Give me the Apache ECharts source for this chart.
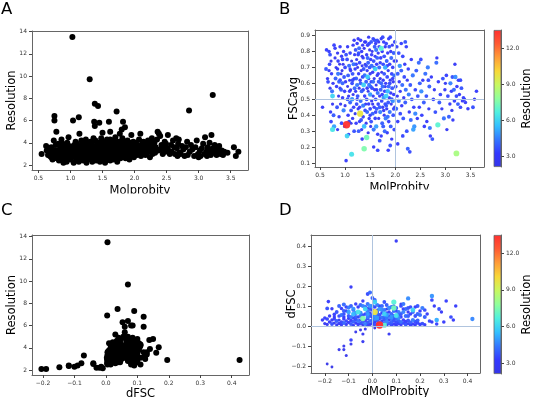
<!DOCTYPE html>
<html><head><meta charset="utf-8">
<script src="https://cdn.jsdelivr.net/npm/echarts@6/dist/echarts.min.js"></script>
<style>html,body{margin:0;padding:0;background:#fff}#c{width:534px;height:401px}</style>
</head><body><div id="c"></div>
<script>
// ---- data: [MolProbity, FSCavg, Resolution] (panels A and B) ----
const molFscRes = [
[0.55,0.45,3.0],[0.62,0.69,3.7],[0.63,0.81,3.3],[0.65,0.63,2.9],[0.66,0.61,3.5],[0.68,0.80,3.2],[0.68,0.68,2.8],[0.69,0.72,3.4],[0.70,0.78,3.6],[0.70,0.57,2.7],[0.71,0.42,3.1],[0.72,0.74,2.5],[0.72,0.36,3.4],[0.73,0.66,3.0],[0.74,0.55,4.2],[0.75,0.31,6.4],[0.75,0.52,6.0],[0.75,0.47,2.6],[0.76,0.60,2.9],[0.77,0.40,3.8],[0.78,0.33,5.0],[0.78,0.84,3.3],
[0.80,0.82,3.2],[0.80,0.76,2.6],[0.81,0.63,3.9],[0.82,0.70,2.4],[0.83,0.58,3.1],[0.84,0.45,3.6],[0.85,0.79,2.8],[0.86,0.74,3.3],[0.86,0.66,4.3],[0.87,0.52,2.5],[0.88,0.39,3.0],[0.89,0.72,2.2],[0.90,0.62,3.5],[0.90,0.83,3.1],[0.91,0.47,2.7],[0.92,0.56,3.8],[0.93,0.77,2.9],[0.93,0.35,3.4],[0.94,0.68,2.3],[0.95,0.51,3.2],[0.95,0.60,4.0],[0.96,0.72,2.6],[0.97,0.43,4.5],[0.97,0.80,3.0],[0.98,0.64,3.7],[0.99,0.33,2.8],[0.99,0.55,3.3],[0.85,0.31,2.6],[0.88,0.61,3.9],[0.92,0.66,2.4],[0.95,0.75,3.5],[0.90,0.57,2.8],[0.85,0.69,3.1],
[1.00,0.70,3.4],[1.00,0.46,2.5],[1.01,0.61,3.0],[1.02,0.115,3.1],[1.03,0.34,13.5],[1.04,0.27,6.0],[1.04,0.75,3.5],[1.05,0.58,2.2],[1.05,0.83,2.9],[1.06,0.65,3.8],[1.06,0.40,3.2],[1.07,0.52,2.7],[1.08,0.71,4.1],[1.08,0.36,3.4],[1.09,0.62,2.4],[1.10,0.79,3.3],[1.10,0.48,3.9],[1.11,0.56,2.6],[1.11,0.68,3.1],[1.12,0.43,3.6],[1.13,0.155,6.3],[1.13,0.74,2.3],[1.14,0.60,3.5],[1.14,0.50,4.8],[1.15,0.38,2.9],[1.15,0.66,3.7],[1.16,0.84,3.0],[1.16,0.53,2.5],[1.17,0.72,4.2],[1.17,0.45,3.3],[1.18,0.63,2.8],[1.18,0.30,3.6],[1.19,0.57,4.0],[1.19,0.78,2.6],[1.12,0.35,2.4],[1.07,0.28,2.9],[1.02,0.78,3.6],[1.09,0.55,3.2],[1.18,0.87,3.1],[1.15,0.62,3.4],[1.10,0.69,2.9],[1.05,0.50,3.7],
[1.20,0.69,3.1],[1.20,0.41,2.4],[1.21,0.81,3.6],[1.21,0.55,2.8],[1.22,0.63,3.9],[1.22,0.35,3.2],[1.23,0.75,2.5],[1.23,0.47,3.5],[1.24,0.59,4.3],[1.24,0.85,3.0],[1.25,0.70,2.2],[1.25,0.52,3.7],[1.26,0.78,3.3],[1.26,0.44,2.7],[1.27,0.66,3.0],[1.27,0.30,3.8],[1.28,0.82,4.0],[1.28,0.57,2.6],[1.29,0.73,3.4],[1.30,0.41,9.7],[1.30,0.62,2.9],[1.31,0.87,3.2],[1.31,0.49,4.1],[1.32,0.68,2.5],[1.32,0.37,3.6],[1.33,0.80,3.1],[1.33,0.55,3.9],[1.34,0.71,2.3],[1.34,0.25,3.3],[1.35,0.64,3.5],[1.35,0.84,2.8],[1.36,0.46,4.4],[1.36,0.76,3.0],[1.37,0.59,5.9],[1.37,0.69,3.7],[1.38,0.19,7.5],[1.38,0.33,5.5],[1.38,0.82,2.6],[1.39,0.52,3.2],[1.39,0.65,4.2],[1.40,0.72,2.4],[1.40,0.43,3.4],[1.26,0.88,2.9],[1.29,0.36,3.1],[1.33,0.31,2.7],[1.36,0.39,3.3],
[1.22,0.72,3.3],[1.24,0.50,2.9],[1.27,0.79,3.6],[1.29,0.45,3.0],[1.31,0.60,3.8],[1.34,0.77,2.7],[1.36,0.56,3.4],[1.39,0.86,3.1],
[1.41,0.86,3.1],[1.42,0.61,3.8],[1.42,0.35,2.5],[1.43,0.26,7.3],[1.43,0.78,3.0],[1.43,0.50,3.5],[1.44,0.68,2.7],[1.44,0.42,4.0],[1.45,0.64,5.8],[1.45,0.84,3.3],[1.46,0.55,2.3],[1.46,0.73,3.9],[1.47,0.47,3.2],[1.47,0.89,2.8],[1.48,0.59,4.4],[1.48,0.38,3.0],[1.49,0.70,3.6],[1.49,0.81,2.6],[1.50,0.53,4.9],[1.50,0.44,3.4],[1.50,0.66,2.9],[1.51,0.75,3.2],[1.51,0.33,2.4],[1.52,0.86,3.7],[1.52,0.61,3.1],[1.53,0.49,2.7],[1.53,0.71,4.1],[1.54,0.57,3.5],[1.54,0.80,2.2],[1.55,0.41,3.9],[1.55,0.67,3.0],[1.56,0.88,3.4],[1.56,0.52,2.8],[1.57,0.74,3.6],[1.57,0.31,4.3],[1.58,0.63,2.5],[1.58,0.45,3.2],[1.59,0.83,3.8],[1.59,0.56,3.0],[1.60,0.69,5.9],[1.60,0.38,3.3],[1.60,0.77,2.7],[1.46,0.29,2.6],[1.52,0.36,3.6],[1.57,0.20,3.1],
[1.41,0.47,2.8],[1.42,0.71,3.6],[1.44,0.57,3.2],[1.45,0.76,4.0],[1.47,0.63,2.9],[1.48,0.85,3.5],[1.50,0.40,3.1],[1.51,0.58,3.7],[1.53,0.78,3.3],[1.55,0.47,2.6],[1.56,0.61,4.1],[1.58,0.70,3.0],[1.59,0.87,3.6],
[1.61,0.50,3.6],[1.61,0.85,3.0],[1.62,0.59,2.4],[1.62,0.33,5.0],[1.63,0.72,3.2],[1.63,0.44,3.8],[1.64,0.65,2.7],[1.64,0.87,3.5],[1.65,0.54,4.2],[1.65,0.28,3.1],[1.66,0.79,2.9],[1.66,0.47,3.4],[1.67,0.61,3.7],[1.67,0.38,2.5],[1.68,0.83,3.3],[1.68,0.70,4.0],[1.69,0.52,3.0],[1.69,0.24,3.6],[1.70,0.63,2.6],[1.70,0.42,4.5],[1.72,0.82,6.8],[1.71,0.76,3.2],[1.71,0.56,3.8],[1.72,0.88,2.8],[1.73,0.49,3.4],[1.73,0.67,2.3],[1.74,0.35,3.9],[1.74,0.80,3.1],[1.75,0.58,4.1],[1.75,0.45,2.7],[1.76,0.72,3.5],[1.76,0.62,3.0],[1.77,0.51,4.8],[1.77,0.86,3.3],[1.78,0.40,2.6],[1.78,0.66,3.7],[1.79,0.55,3.2],[1.79,0.30,4.0],[1.80,0.70,5.2],[1.80,0.47,3.5],[1.80,0.83,2.9],[1.65,0.18,3.4],[1.72,0.27,3.0],[1.76,0.33,3.8],[1.62,0.81,4.3],
[1.61,0.42,3.4],[1.63,0.56,2.9],[1.64,0.76,3.9],[1.66,0.66,3.2],[1.67,0.86,2.7],[1.69,0.45,3.8],[1.70,0.73,3.1],[1.72,0.60,4.0],[1.74,0.53,3.3],[1.75,0.89,3.5],[1.77,0.43,3.0],[1.78,0.77,3.6],[1.80,0.58,2.8],
[1.81,0.60,3.0],[1.81,0.38,4.4],[1.82,0.52,5.9],[1.82,0.85,3.4],[1.83,0.74,3.8],[1.83,0.44,2.8],[1.84,0.64,3.5],[1.84,0.29,3.1],[1.85,0.55,5.4],[1.85,0.79,3.0],[1.86,0.48,3.7],[1.86,0.68,2.6],[1.87,0.58,4.0],[1.87,0.36,3.3],[1.88,0.83,3.6],[1.88,0.51,2.9],[1.89,0.72,3.2],[1.89,0.42,4.2],[1.90,0.62,2.7],[1.90,0.89,3.5],[1.91,0.54,3.1],[1.91,0.33,3.8],[1.92,0.76,4.0],[1.92,0.47,2.5],[1.93,0.66,3.4],[1.93,0.25,3.0],[1.94,0.57,3.7],[1.94,0.84,2.8],[1.95,0.49,4.7],[1.95,0.70,3.3],[1.96,0.40,3.6],[1.96,0.61,2.9],[1.97,0.79,3.9],[1.97,0.53,3.2],[1.98,0.65,4.1],[1.98,0.31,3.5],[1.99,0.45,2.7],[1.99,0.86,3.4],[1.86,0.18,3.2],[1.90,0.21,3.6],
[1.82,0.46,3.7],[1.84,0.71,3.2],[1.85,0.39,4.1],[1.87,0.88,3.0],[1.89,0.60,3.5],[1.91,0.80,2.9],[1.93,0.50,3.8],[1.95,0.63,3.1],[1.97,0.44,3.4],[1.98,0.74,3.0],
[2.01,0.58,3.6],[2.02,0.74,3.1],[2.02,0.44,4.0],[2.03,0.83,3.4],[2.04,0.52,2.9],[2.05,0.66,3.8],[2.05,0.36,3.2],[2.07,0.79,3.6],[2.07,0.49,4.3],[2.08,0.61,3.0],[2.09,0.71,4.8],[2.10,0.41,3.5],[2.10,0.55,2.8],[2.12,0.85,3.3],[2.12,0.68,3.9],[2.13,0.46,3.1],[2.14,0.59,4.1],[2.15,0.77,3.4],[2.16,0.38,3.7],[2.17,0.51,2.9],[2.18,0.64,3.5],[2.19,0.72,3.0],[2.20,0.48,3.8],[2.21,0.56,4.2],[2.22,0.83,3.3],[2.23,0.30,3.6],[2.24,0.62,2.7],[2.25,0.19,3.9],[2.26,0.69,3.2],[2.27,0.53,4.4],[2.28,0.42,3.0],[2.29,0.17,3.5],[2.30,0.59,3.7],[2.31,0.37,4.0],[2.32,0.75,3.1],[2.33,0.50,3.6],[2.35,0.65,4.3],[2.36,0.31,5.0],[2.37,0.45,3.3],[2.38,0.33,4.8],[2.40,0.41,4.6],[2.40,0.56,3.4],[2.42,0.68,3.8],[2.44,0.38,3.0],[2.45,0.52,3.6],[2.47,0.73,4.1],[2.48,0.45,3.2],[2.49,0.60,3.9],[2.15,0.27,3.4],[2.05,0.22,3.2],[2.20,0.86,3.7],
[2.51,0.75,3.5],[2.52,0.55,4.7],[2.53,0.40,3.3],[2.55,0.62,3.0],[2.57,0.48,3.8],[2.58,0.33,3.2],[2.60,0.66,4.2],[2.62,0.52,3.6],[2.63,0.36,3.0],[2.65,0.70,4.4],[2.66,0.62,3.5],[2.67,0.44,2.8],[2.68,0.58,3.9],[2.69,0.32,4.3],[2.70,0.27,3.1],[2.72,0.64,3.0],[2.74,0.25,3.7],[2.76,0.50,3.4],[2.78,0.56,2.8],[2.80,0.42,3.6],[2.82,0.73,4.1],[2.83,0.76,2.9],[2.85,0.34,6.9],[2.86,0.61,3.2],[2.88,0.48,3.8],[2.90,0.53,3.4],[2.93,0.44,2.8],[2.95,0.63,3.6],[2.97,0.38,4.2],[2.99,0.56,3.0],
[3.00,0.60,2.7],[3.02,0.65,3.3],[3.03,0.31,2.8],[3.05,0.52,3.5],[3.07,0.39,3.9],[3.09,0.47,3.0],[3.10,0.60,4.5],[3.12,0.55,3.2],[3.13,0.43,2.8],[3.14,0.64,3.6],[3.15,0.37,3.0],[3.17,0.56,4.0],[3.18,0.49,3.3],[3.19,0.72,2.9],[3.20,0.64,4.7],[3.22,0.16,8.3],[3.22,0.52,3.5],[3.23,0.58,3.1],[3.25,0.47,3.8],[3.26,0.62,3.2],[3.28,0.53,2.9],[3.30,0.45,3.4],[3.32,0.57,3.7],[3.34,0.49,3.0],[3.36,0.51,3.3],[3.38,0.50,2.9],[3.40,0.48,3.2],[3.45,0.44,3.1],[3.55,0.45,3.6],[3.58,0.50,2.8],[3.62,0.55,3.2],[3.30,0.62,3.5]
];

// ---- data: [dMolProbity, dFSC, Resolution] (panels C and D) ----
const dmolDfscRes = [
[-0.19,-0.19,2.1],[-0.17,-0.205,2.1],[-0.11,-0.148,2.25],[-0.14,-0.118,2.35],[-0.12,-0.118,2.4],[-0.12,-0.10,2.3],[-0.09,-0.09,2.4],[-0.09,-0.07,3.3],[-0.04,-0.078,2.6],[-0.04,-0.04,2.55],[0.07,-0.04,2.6],[-0.07,-0.03,2.2],[-0.05,-0.02,2.2],[-0.03,-0.015,2.3],[0.01,-0.01,2.15],
[-0.21,0.030,3.0],[-0.20,0.012,2.8],[-0.19,0.035,3.4],[-0.19,0.008,2.6],[-0.18,0.020,3.1],[-0.17,0.030,2.9],[-0.17,0.010,3.6],[-0.16,0.015,2.5],[-0.16,0.035,3.3],[-0.15,0.005,2.7],[-0.15,0.025,3.8],[-0.14,0.012,3.0],[-0.14,0.030,2.6],[-0.13,0.020,3.5],[-0.13,0.006,2.9],[-0.12,0.035,3.2],[-0.12,0.015,4.0],[-0.11,0.008,2.8],[-0.11,0.025,3.4],[-0.10,0.018,3.0],[-0.10,0.038,2.7],[-0.09,0.010,3.7],[-0.09,0.028,3.1],[-0.08,0.004,2.6],[-0.08,0.022,3.9],[-0.08,0.040,3.3],[-0.07,0.015,2.9],[-0.07,0.032,3.5],[-0.06,0.008,3.2],[-0.06,0.025,4.2],[-0.06,0.045,2.8],[-0.05,0.012,3.6],[-0.05,0.030,3.0],[-0.04,0.005,2.5],[-0.04,0.020,3.8],[-0.04,0.037,7.5],[-0.03,0.010,4.4],[-0.03,0.028,2.9],[-0.02,0.003,3.1],[-0.02,0.018,3.7],[-0.02,0.038,3.4],[-0.01,0.008,2.8],[-0.01,0.025,4.0],[0.00,0.012,3.3],[0.00,0.030,3.9],[0.00,0.045,2.7],[0.01,0.005,3.6],[0.01,0.020,3.0],[0.01,0.035,4.6],[0.02,0.010,3.2],[0.02,0.028,3.8],[0.02,0.045,3.4],[0.03,0.005,13.5],[0.03,0.018,4.2],[0.03,0.038,3.0],[0.04,0.008,3.5],[0.04,0.025,2.9],[0.04,0.042,4.1],[0.05,0.004,6.9],[0.05,0.015,3.3],[0.05,0.032,3.7],[0.06,0.005,3.0],[0.06,0.022,4.5],[0.06,0.040,3.2],[0.07,0.012,3.8],[0.07,0.030,2.8],[0.08,0.006,3.4],[0.08,0.020,3.9],[0.08,0.038,4.3],[0.09,0.010,3.1],[0.09,0.028,3.6],[0.10,0.004,2.9],[0.10,0.018,3.5],[0.10,0.035,4.0],[0.11,0.012,3.3],[0.11,0.025,3.8],[0.12,0.006,3.0],[0.12,0.020,4.2],[0.13,0.015,3.4],[0.13,0.030,3.1],[0.14,0.008,3.7],[0.14,0.022,3.2],[0.15,0.012,2.9],[0.15,0.028,3.6],[0.16,0.005,3.3],[0.16,0.018,3.9],[0.17,0.010,3.1],[0.18,0.022,3.5],[0.18,0.006,3.0],[0.19,0.015,3.4],[0.20,0.008,3.2],[0.21,0.012,3.6],[0.22,0.006,3.0],[0.17,0.030,4.4],[0.19,0.028,3.8],
[-0.185,0.122,3.2],[-0.19,0.088,3.6],[-0.17,0.086,2.9],[-0.16,0.058,3.3],[-0.14,0.100,3.9],[-0.13,0.088,3.0],[-0.12,0.108,4.1],[-0.12,0.060,3.5],[-0.11,0.075,2.8],[-0.10,0.050,3.7],[-0.10,0.092,4.4],[-0.10,0.070,5.0],[-0.08,0.080,3.4],[-0.08,0.060,5.4],[-0.06,0.070,6.4],[-0.05,0.065,4.6],[-0.03,0.085,6.0],[-0.03,0.095,3.8],[-0.07,0.110,3.1],[-0.05,0.105,4.0],[-0.02,0.060,4.9],[-0.01,0.085,3.6],[0.00,0.100,4.3],[0.01,0.070,9.7],[0.09,0.090,7.3],[0.09,0.120,6.8],[0.10,0.053,6.3],[0.17,0.080,6.0],[0.05,0.060,5.9],[0.01,0.120,5.9],[0.06,0.055,5.0],[0.27,0.030,5.2],[0.25,0.150,4.8],[0.42,0.035,4.6],
[-0.09,0.195,2.9],[-0.02,0.160,3.55],[-0.01,0.168,4.05],[0.00,0.140,3.9],[0.15,0.138,4.7],[0.31,0.125,3.3],[0.35,0.100,3.1],[0.10,0.425,2.9],[-0.04,0.125,3.0],[0.01,0.130,3.6],
[0.06,0.105,3.8],[0.08,0.095,4.2],[0.12,0.100,3.5],[0.14,0.085,4.0],[0.16,0.060,3.3],[0.19,0.100,3.7],[0.20,0.075,3.2],[0.22,0.045,3.9],[0.25,0.130,3.4],[0.26,0.100,3.0],[0.28,0.085,3.6],[0.29,0.070,2.9],[0.27,0.010,3.3],[0.34,0.030,3.1],[0.33,0.045,3.5],[0.23,0.060,3.1],[0.21,0.090,4.4],[0.18,0.050,3.6],[0.13,0.070,4.5],[0.11,0.055,3.9],[0.09,0.075,4.1],[0.07,0.050,3.4],[0.04,0.080,4.6],[0.03,0.100,3.2],[0.02,0.060,4.0],[-0.01,0.050,3.7],[-0.02,0.110,4.2],[-0.04,0.055,3.5],[-0.07,0.045,3.9],[-0.09,0.045,4.3],[-0.12,0.045,3.1],[-0.14,0.050,3.4],[-0.16,0.045,2.8],[-0.18,0.050,3.0],[-0.20,0.040,3.3],[0.05,0.120,3.6],[0.08,0.045,4.8],[0.12,0.045,3.2],[0.15,0.050,3.8],[0.10,0.075,3.0],[0.13,0.110,4.3],[0.16,0.095,3.5],[0.19,0.060,4.0],[0.24,0.025,3.4],[0.30,0.020,3.2],[0.25,0.020,2.9],
[0.06,0.085,2.6],[0.12,0.110,2.5],[0.09,0.100,2.7],[-0.02,0.090,2.4],[0.02,0.080,2.5],[0.15,0.070,2.8],
[-0.15,0.070,3.6],[-0.13,0.055,4.2],[-0.11,0.095,3.3],[-0.09,0.100,3.9],[-0.07,0.065,4.7],[-0.06,0.095,3.2],[-0.05,0.050,4.1],[-0.04,0.100,4.5],[-0.03,0.060,3.4],[-0.02,0.075,4.4],[-0.01,0.065,3.1],[-0.01,0.100,4.8],[0.00,0.055,4.0],[0.00,0.080,3.5],[0.01,0.045,4.7],[0.01,0.095,3.3],[0.02,0.070,3.9],[0.02,0.105,4.4],[0.03,0.055,3.6],[0.03,0.085,4.9],[0.04,0.065,3.2],[0.04,0.100,4.0],[0.05,0.045,3.8],[0.05,0.080,4.3],[0.06,0.065,3.5],[0.07,0.090,4.6],[0.07,0.070,3.1],[0.08,0.060,4.0],[0.09,0.050,3.6],[0.10,0.090,3.9],[0.11,0.070,4.4],[0.12,0.060,3.7],[0.13,0.085,3.3],[0.14,0.050,4.1],[0.15,0.090,3.6],[0.17,0.070,3.9],[0.18,0.095,3.2],[0.20,0.055,4.2],[0.22,0.080,3.5],[-0.08,0.085,4.8],[-0.12,0.075,3.8],[0.06,0.040,4.4],[0.02,0.040,4.9],[-0.02,0.045,4.5],[0.09,0.040,3.0],[0.11,0.040,4.6]
];

// ---- axes ----
const molRange = [0.4, 3.77];
const resRangeA = [1.55, 14.05];
const resRangeC = [1.55, 14.15];
const fscRange = [0.075, 0.935];
const dfscRange = [-0.235, 0.455];
const dmolRange = [-0.258, 0.452];
const cbarRange = [2.1, 13.5];
const ticksMol = [0.5, 1.0, 1.5, 2.0, 2.5, 3.0, 3.5];
const ticksRes = [2, 4, 6, 8, 10, 12, 14];
const ticksFsc = [0.1, 0.2, 0.3, 0.4, 0.5, 0.6, 0.7, 0.8, 0.9];
const ticksDelta = [-0.2, -0.1, 0.0, 0.1, 0.2, 0.3, 0.4];
const ticksCbar = [3, 6, 9, 12];
const refB = {x: 2.0, y: 0.5};
const refD = {x: 0.0, y: 0.0};

const cmap = ['#3535e8','#3338ff','#3377ff','#33c0ff','#50f0e0','#90ff9c','#c8f860','#f8d838','#ff9c38','#ff5a33','#ff3030'];
const FONT = 'DejaVu Sans';
const FRAME = '#666';
const fmt1 = v => (v < 0 ? '\u2212' : '') + Math.abs(v).toFixed(1);
const fmt0 = v => String(Math.round(v));

function axis(grid, range, ticks, fmt, name, gap, pos) {
  return {
    type: 'value', gridIndex: grid, min: range[0], max: range[1], position: pos,
    name: name, nameLocation: 'middle', nameGap: gap, nameMoveOverlap: false,
    nameTextStyle: {fontFamily: FONT, fontSize: 11.5, color: '#000'},
    axisLine: {show: true, onZero: false, lineStyle: {color: FRAME, width: 1}},
    axisTick: {show: true, customValues: ticks, length: 3, lineStyle: {color: '#444', width: 1}},
    axisLabel: {customValues: ticks, formatter: fmt, fontFamily: FONT, fontSize: 6, color: '#333', margin: 5},
    splitLine: {show: false}
  };
}
function frameAxis(grid, range, pos) {
  return {type: 'value', gridIndex: grid, min: range[0], max: range[1], position: pos,
    axisLine: {show: true, onZero: false, lineStyle: {color: FRAME, width: 1}},
    axisTick: {show: false}, axisLabel: {show: false}, splitLine: {show: false}};
}
const bySize = v => 2.0 * Math.sqrt(v[2]);
const sortedRes = arr => arr.slice().sort((a, b) => a[2] - b[2]);
const refLine = r => ({silent: true, symbol: ['none', 'none'], label: {show: false},
  lineStyle: {color: '#b0c4de', type: 'solid', width: 1}, animation: false,
  data: [{xAxis: r.x}, {yAxis: r.y}]});
const grad = {type: 'linear', x: 0, y: 1, x2: 0, y2: 0,
  colorStops: cmap.map((c, i) => ({offset: i / (cmap.length - 1), color: c}))};
const cbarX = g => ({type: 'category', gridIndex: g, data: [''], show: false});
const cbarBar = (ax, stack, val, style) => ({type: 'bar', xAxisIndex: ax, yAxisIndex: ax, stack: stack,
  barWidth: 8, barCategoryGap: 0, silent: true, itemStyle: style, data: [val]});

const option = {
  animation: false,
  backgroundColor: '#fff',
  textStyle: {fontFamily: FONT},
  title: [
    {text: 'A', left: 1, top: 1},
    {text: 'B', left: 279, top: 1},
    {text: 'C', left: 1, top: 202},
    {text: 'D', left: 279, top: 202}
  ].map(t => Object.assign(t, {padding: 0, textStyle: {fontFamily: FONT, fontSize: 16.5, fontWeight: 'normal', color: '#000'}})),
  grid: [
    {left: 32, top: 31, width: 216, height: 139},
    {left: 315, top: 30, width: 169, height: 137},
    {left: 32, top: 235, width: 217, height: 141},
    {left: 311, top: 235, width: 169, height: 138},
    {left: 494, top: 30, width: 8, height: 137},
    {left: 494, top: 235, width: 8, height: 139}
  ],
  xAxis: [
    axis(0, molRange, ticksMol, fmt1, 'Molprobity', 15, 'bottom'),
    axis(1, molRange, ticksMol, fmt1, 'MolProbity', 15, 'bottom'),
    axis(2, dfscRange, ticksDelta, fmt1, 'dFSC', 13, 'bottom'),
    axis(3, dmolRange, ticksDelta, fmt1, 'dMolProbity', 13, 'bottom'),
    cbarX(4), cbarX(5),
    frameAxis(0, molRange, 'top'), frameAxis(1, molRange, 'top'),
    frameAxis(2, dfscRange, 'top'), frameAxis(3, dmolRange, 'top')
  ],
  yAxis: [
    axis(0, resRangeA, ticksRes, fmt0, 'Resolution', 13.5, 'left'),
    axis(1, fscRange, ticksFsc, fmt1, 'FSCavg', 15, 'left'),
    axis(2, resRangeC, ticksRes, fmt0, 'Resolution', 13.5, 'left'),
    axis(3, dfscRange, ticksDelta, fmt1, 'dFSC', 13, 'left'),
    axis(4, cbarRange, ticksCbar, fmt1, 'Resolution', 20, 'right'),
    axis(5, cbarRange, ticksCbar, fmt1, 'Resolution', 20, 'right'),
    frameAxis(0, resRangeA, 'right'), frameAxis(1, fscRange, 'right'),
    frameAxis(2, resRangeC, 'right'), frameAxis(3, dfscRange, 'right')
  ],
  visualMap: [{type: 'continuous', show: false, seriesIndex: [1, 3], dimension: 2,
    min: cbarRange[0], max: cbarRange[1], inRange: {color: cmap}}],
  series: [
    {type: 'scatter', xAxisIndex: 0, yAxisIndex: 0, symbolSize: 6,
      itemStyle: {color: '#000', opacity: 1},
      data: molFscRes.map(p => [p[0], p[2]])},
    {type: 'scatter', xAxisIndex: 1, yAxisIndex: 1, symbolSize: bySize,
      itemStyle: {opacity: 0.95}, markLine: refLine(refB),
      data: sortedRes(molFscRes)},
    {type: 'scatter', xAxisIndex: 2, yAxisIndex: 2, symbolSize: 6,
      itemStyle: {color: '#000', opacity: 1},
      data: dmolDfscRes.map(p => [p[1], p[2]])},
    {type: 'scatter', xAxisIndex: 3, yAxisIndex: 3, symbolSize: bySize,
      itemStyle: {opacity: 0.95}, markLine: refLine(refD),
      data: sortedRes(dmolDfscRes)},
    cbarBar(4, 'cb1', cbarRange[0], {color: 'transparent'}),
    cbarBar(4, 'cb1', cbarRange[1] - cbarRange[0], {color: grad, borderColor: FRAME, borderWidth: 0.8}),
    cbarBar(5, 'cb2', cbarRange[0], {color: 'transparent'}),
    cbarBar(5, 'cb2', cbarRange[1] - cbarRange[0], {color: grad, borderColor: FRAME, borderWidth: 0.8})
  ],
  graphic: [
    {type: 'rect', z: 100, silent: true, shape: {x: 0, y: 193.5, width: 267, height: 7}, style: {fill: '#fff'}},
    {type: 'rect', z: 100, silent: true, shape: {x: 267, y: 189.5, width: 267, height: 11}, style: {fill: '#fff'}},
    {type: 'rect', z: 100, silent: true, shape: {x: 267, y: 397, width: 267, height: 4}, style: {fill: '#fff'}}
  ]
};
const chart = echarts.init(document.getElementById('c'), null, {renderer: 'canvas'});
chart.setOption(option);
</script></body></html>
